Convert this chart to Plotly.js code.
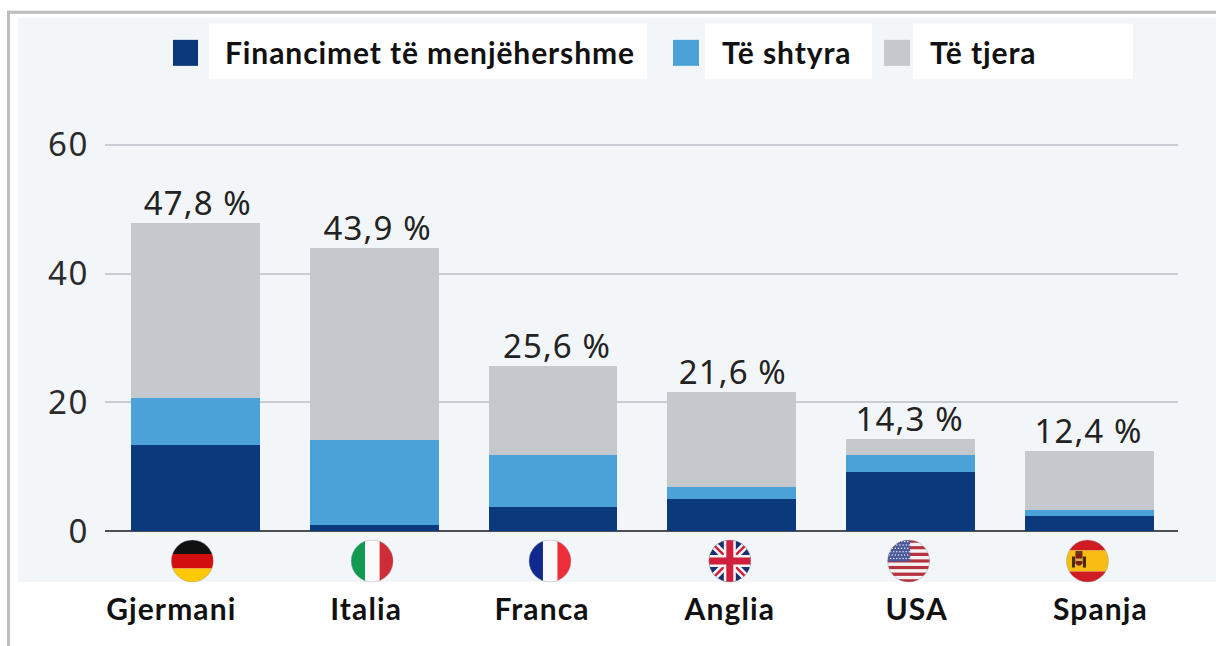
<!DOCTYPE html>
<html><head><meta charset="utf-8">
<script src="https://cdn.plot.ly/plotly-3.0.1.min.js"></script>
<style>html,body{margin:0;padding:0;background:#fff}#chart{width:1216px;height:646px}
.xtick text{letter-spacing:1.1px}
.ytick text{letter-spacing:1.6px}
.annotation-text{letter-spacing:0.9px}
.textpoint text{letter-spacing:1.1px}
</style>
</head><body><div id="chart"></div>
<script>
const categories = ["Gjermani","Italia","Franca","Anglia","USA","Spanja"];
const immediate = [13.4,1.0,3.7,4.9,9.2,2.4];
const deferred = [7.3,13.2,8.1,2.0,2.6,0.9];
const others = [27.1,29.7,13.8,14.7,2.5,9.1];
const totals = [47.8,43.9,25.6,21.6,14.3,12.4];
const totalLabels = ["47,8 %","43,9 %","25,6 %","21,6 %","14,3 %","12,4 %"];
const seriesNames = ["Financimet të menjëhershme","Të shtyra","Të tjera"];
const seriesColors = ["#0a3a7c","#4ba2d8","#c5c9cd"];
const yTicks = [0,20,40,60];

const W=1216,H=646,L=105,R=1178,B=531;
const yTop=62, T=B-386*yTop/60;
const px=x=>(x-L)/(R-L), py=y=>(B-y)/(B-T);
const rect=(x0,y0,x1,y1,fill)=>({type:'rect',xref:'paper',yref:'paper',layer:'below',
  x0:px(x0),x1:px(x1),y0:py(y1),y1:py(y0),fillcolor:fill,line:{width:0}});

const wrap=(body)=>'data:image/svg+xml;utf8,'+encodeURIComponent(
 '<svg xmlns="http://www.w3.org/2000/svg" width="86" height="86" viewBox="0 0 86 86"><defs><clipPath id="c"><circle cx="43" cy="43" r="42"/></clipPath></defs><g clip-path="url(#c)">'+body+'</g><circle cx="43" cy="43" r="42" fill="none" stroke="#9a9a9a" stroke-opacity="0.55" stroke-width="1.5"/></svg>');
const bar=(y,h,c)=>`<rect x="0" y="${y}" width="86" height="${h}" fill="${c}"/>`;
const vbar=(x,w,c)=>`<rect x="${x}" y="0" width="${w}" height="86" fill="${c}"/>`;
let usStripes='';
for(let i=0;i<13;i++){usStripes+=bar(i*86/13,86/13+0.3,i%2?'#f4f2f2':'#b5333f');}
let usStars='';
for(let r=0;r<6;r++){for(let c=0;c<7;c++){usStars+=`<circle cx="${4+c*6.2+(r%2)*3}" cy="${4+r*6.8}" r="1.5" fill="#eef"/>`;}}
const flags=[
 wrap(bar(0,29,'#111')+bar(29,29,'#d30e0e')+bar(58,28,'#fcc800')),
 wrap(vbar(0,29,'#129a52')+vbar(29,29,'#fafafa')+vbar(58,28,'#cf2c3a')),
 wrap(vbar(0,29,'#10298e')+vbar(29,29,'#fafafa')+vbar(58,28,'#ee2d3a')),
 wrap('<rect width="86" height="86" fill="#1a2f6e"/>'+
   '<path d="M0 0L86 86M86 0L0 86" stroke="#f4f4f4" stroke-width="15"/>'+
   '<path d="M0 0L86 86M86 0L0 86" stroke="#cf1f3c" stroke-width="5"/>'+
   '<path d="M43 0V86M0 43H86" stroke="#f4f4f4" stroke-width="24"/>'+
   '<path d="M43 0V86M0 43H86" stroke="#cf1f3c" stroke-width="14"/>'),
 wrap(usStripes+'<rect width="46" height="44" fill="#4a5a98"/>'+usStars),
 wrap(bar(0,22,'#cf1c23')+bar(22,42,'#f7bd12')+bar(64,22,'#cf1c23')+
   '<rect x="12" y="34" width="6" height="22" fill="#4a2a1c"/><rect x="34" y="34" width="6" height="22" fill="#4a2a1c"/>'+
   '<path d="M19 28h14v20q-7 9 -14 0z" fill="#7e1f1c"/><rect x="19" y="38" width="14" height="5" fill="#d9b24a"/>'+
   '<rect x="19" y="23" width="14" height="6" fill="#6b3a1c"/>')
];
const labelOffsets=[-24,-8,-11,-2,6,11];
const flagOffsets=[-3,-2,-3,-2,-2,-2];
const totalOffsets=[2.5,3.5,4,1,-1,-1];
const slot=(R-L)/6;
const idx=categories.map((_,i)=>i);

const traces=[immediate,deferred,others].map((v,k)=>({
  type:'bar',x:idx,y:v,name:seriesNames[k],width:0.72,
  marker:{color:seriesColors[k],line:{width:0}},
  customdata:categories,hovertemplate:'%{customdata}: %{y}<extra>'+seriesNames[k]+'</extra>',showlegend:false}));
traces.push({type:'scatter',mode:'text',x:idx.map(i=>i+totalOffsets[i]/slot),y:totals,text:totalLabels,textposition:'top center',
  textfont:{family:'"Noto Sans",sans-serif',size:33,color:'#222'},hoverinfo:'skip',showlegend:false,cliponaxis:false});

const legendBoxes=[[209,647],[705,872],[913,1133]];
const swatches=[[173,198],[673,699],[884,910]];
const legendText=[222.5,719.5,927.5];

const shapes=[
  rect(0,0,W,H,'#ffffff'),
  rect(18,18,W,582,'#f3f6f9'),
  rect(7,11,W,14,'#bdbdbd'),
  rect(7,11,10,H,'#bdbdbd')
];
legendBoxes.forEach(b=>shapes.push(rect(b[0],24,b[1],79,'#ffffff')));
swatches.forEach((s,k)=>shapes.push(rect(s[0],40,s[1],66,seriesColors[k])));

const annotations=seriesNames.map((n,k)=>({
  xref:'paper',yref:'paper',x:px(legendText[k]),y:py(52),xanchor:'left',yanchor:'middle',showarrow:false,
  text:n,font:{family:'Lato,sans-serif',size:30,color:'#111',weight:700}}));

const images=flags.map((src,i)=>({
  source:src,xref:'x',yref:'paper',x:i+flagOffsets[i]/slot,y:py(539.5),
  sizex:43/slot,sizey:43/(B-T),xanchor:'center',yanchor:'top',sizing:'stretch',layer:'above'}));

Plotly.newPlot('chart',traces,{
  width:W,height:H,barmode:'stack',bargap:0.28,
  margin:{l:L,r:W-R,t:T,b:H-B,pad:0},
  paper_bgcolor:'#ffffff',plot_bgcolor:'rgba(0,0,0,0)',
  xaxis:{range:[-0.505,5.495],tickmode:'array',tickvals:idx.map(i=>i+labelOffsets[i]/slot),ticktext:categories,
    showgrid:false,zeroline:false,showline:false,ticks:'',ticklabelstandoff:58,
    tickfont:{family:'Lato,sans-serif',size:30,color:'#111',weight:700}},
  yaxis:{range:[0,yTop],tickmode:'array',tickvals:yTicks,showgrid:true,gridcolor:'#c7cdd3',gridwidth:1.5,
    zeroline:true,zerolinecolor:'#4b4f54',zerolinewidth:2,showline:false,ticks:'',ticklabelstandoff:15,
    tickfont:{family:'"Noto Sans",sans-serif',size:33,color:'#2b2b2b'}},
  shapes,annotations,images,showlegend:false
},{displayModeBar:false,responsive:false});
</script></body></html>
